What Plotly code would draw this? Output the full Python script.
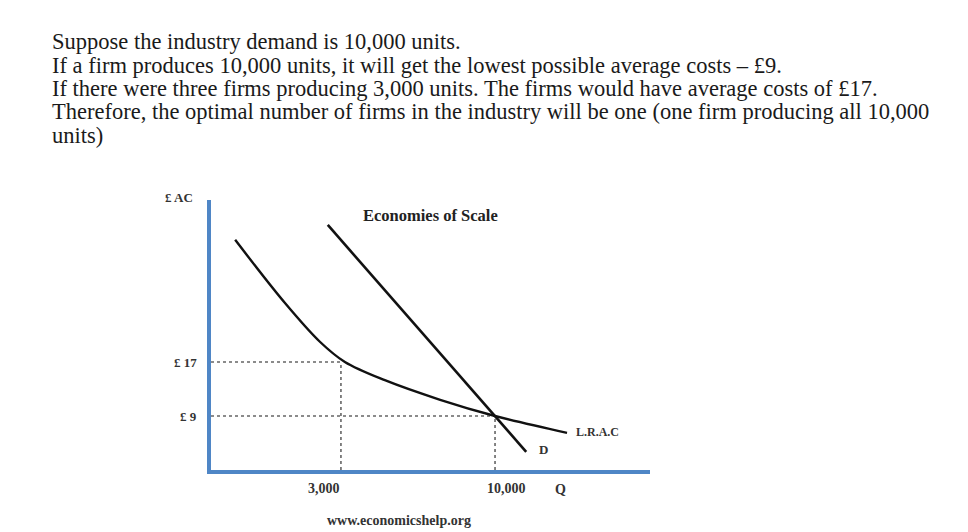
import plotly.graph_objects as go

# ---- data (schematic units) ----
# x: schematic quantity axis 0..100, y: average cost in £
lrac_x = [5.5, 16.9, 24.8, 30.5, 39.6, 52.2, 64.7, 81.1]
lrac_y = [35.1, 25.7, 20.0, 17.0, 14.3, 11.4, 9.0, 6.5]
demand_x = [26.6, 71.8]
demand_y = [37.3, 3.7]

q_ticks = [29.6, 64.7]
q_labels = ["3,000", "10,000"]
ac_ticks = [17, 9]
ac_labels = ["£ 17", "£ 9"]

header_lines = [
    "Suppose the industry demand is 10,000 units.",
    "If a firm produces 10,000 units, it will get the lowest possible average costs – £9.",
    "If there were three firms producing 3,000 units. The firms would have average costs of £17.",
    "Therefore, the optimal number of firms in the industry will be one (one firm producing all 10,000",
    "units)",
]

# ---- layout geometry (page pixels; page body has an 8px margin) ----
OFF = 8
W, H = 968 - 2 * OFF, 532 - OFF
L, R, T, B = 211, 650, 200, 470
X0, X1 = 0, 100
Y0, Y1 = 1, 1 + (B - T) / 6.75


def px(xp):
    return (xp - L) / (R - L)


def py(yp):
    return (B - yp) / (B - T)


fig = go.Figure()

grid_style = dict(color="#666666", width=1.6, dash="dot")
for q, ac in zip(q_ticks, ac_ticks):
    fig.add_trace(go.Scatter(x=[X0, q], y=[ac, ac], mode="lines", line=grid_style,
                             hoverinfo="skip", showlegend=False))
    fig.add_trace(go.Scatter(x=[q, q], y=[Y0, ac], mode="lines", line=grid_style,
                             hoverinfo="skip", showlegend=False))

fig.add_trace(go.Scatter(x=lrac_x, y=lrac_y, mode="lines",
                         line=dict(color="#111111", width=2.4, shape="spline", smoothing=1.0),
                         hoverinfo="skip", showlegend=False))
fig.add_trace(go.Scatter(x=demand_x, y=demand_y, mode="lines",
                         line=dict(color="#111111", width=2.6),
                         hoverinfo="skip", showlegend=False))

SERIF = "Liberation Serif"
label_col = "#333333"

annotations = []
for i, line in enumerate(header_lines):
    annotations.append(dict(
        text=line, xref="paper", yref="paper", x=px(50), y=py(42 + i * 23.3),
        xanchor="left", yanchor="middle", showarrow=False,
        font=dict(family=SERIF, size=22.5, color="#1a1a1a")))

for ac, lab in zip(ac_ticks, ac_labels):
    annotations.append(dict(text="<b>%s</b>" % lab, xref="paper", yref="y", x=px(199), y=ac,
                            xanchor="right", yanchor="middle", showarrow=False,
                            font=dict(family=SERIF, size=13, color=label_col)))
annotations.append(dict(text="<b>£ AC</b>", xref="paper", yref="paper", x=px(179), y=py(197),
                        xanchor="center", yanchor="middle", showarrow=False,
                        font=dict(family=SERIF, size=13, color=label_col)))
x_label_px = [324, 506]
for xp, lab in zip(x_label_px, q_labels):
    annotations.append(dict(text="<b>%s</b>" % lab, xref="paper", yref="paper", x=px(xp), y=py(488),
                            xanchor="center", yanchor="middle", showarrow=False,
                            font=dict(family=SERIF, size=14, color=label_col)))
annotations += [
    dict(text="<b>Q</b>", xref="paper", yref="paper", x=px(560), y=py(489),
         xanchor="center", yanchor="middle", showarrow=False,
         font=dict(family=SERIF, size=14, color=label_col)),
    dict(text="<b>D</b>", xref="paper", yref="paper", x=px(543), y=py(449),
         xanchor="center", yanchor="middle", showarrow=False,
         font=dict(family=SERIF, size=13, color=label_col)),
    dict(text="<b>L.R.A.C</b>", xref="paper", yref="paper", x=px(574), y=py(432),
         xanchor="left", yanchor="middle", showarrow=False,
         font=dict(family=SERIF, size=12, color=label_col)),
    dict(text="<b>Economies of Scale</b>", xref="paper", yref="paper", x=px(430), y=py(215),
         xanchor="center", yanchor="middle", showarrow=False,
         font=dict(family=SERIF, size=16.5, color="#222222")),
    dict(text="<b>www.economicshelp.org</b>", xref="paper", yref="paper", x=px(399), y=py(520),
         xanchor="center", yanchor="middle", showarrow=False,
         font=dict(family=SERIF, size=14, color=label_col)),
]

fig.update_layout(
    width=W, height=H,
    margin=dict(l=L - OFF, r=W - (R - OFF), t=T - OFF, b=H - (B - OFF), pad=0),
    paper_bgcolor="white", plot_bgcolor="white",
    annotations=annotations,
    xaxis=dict(range=[X0, X1], showgrid=False, zeroline=False, showticklabels=False,
               ticks="", showline=True, linecolor="#4f86c6", linewidth=4, fixedrange=True),
    yaxis=dict(range=[Y0, Y1], showgrid=False, zeroline=False, showticklabels=False,
               ticks="", showline=True, linecolor="#4f86c6", linewidth=4, fixedrange=True),
)

fig.write_html("out.html", config={"displayModeBar": False})
